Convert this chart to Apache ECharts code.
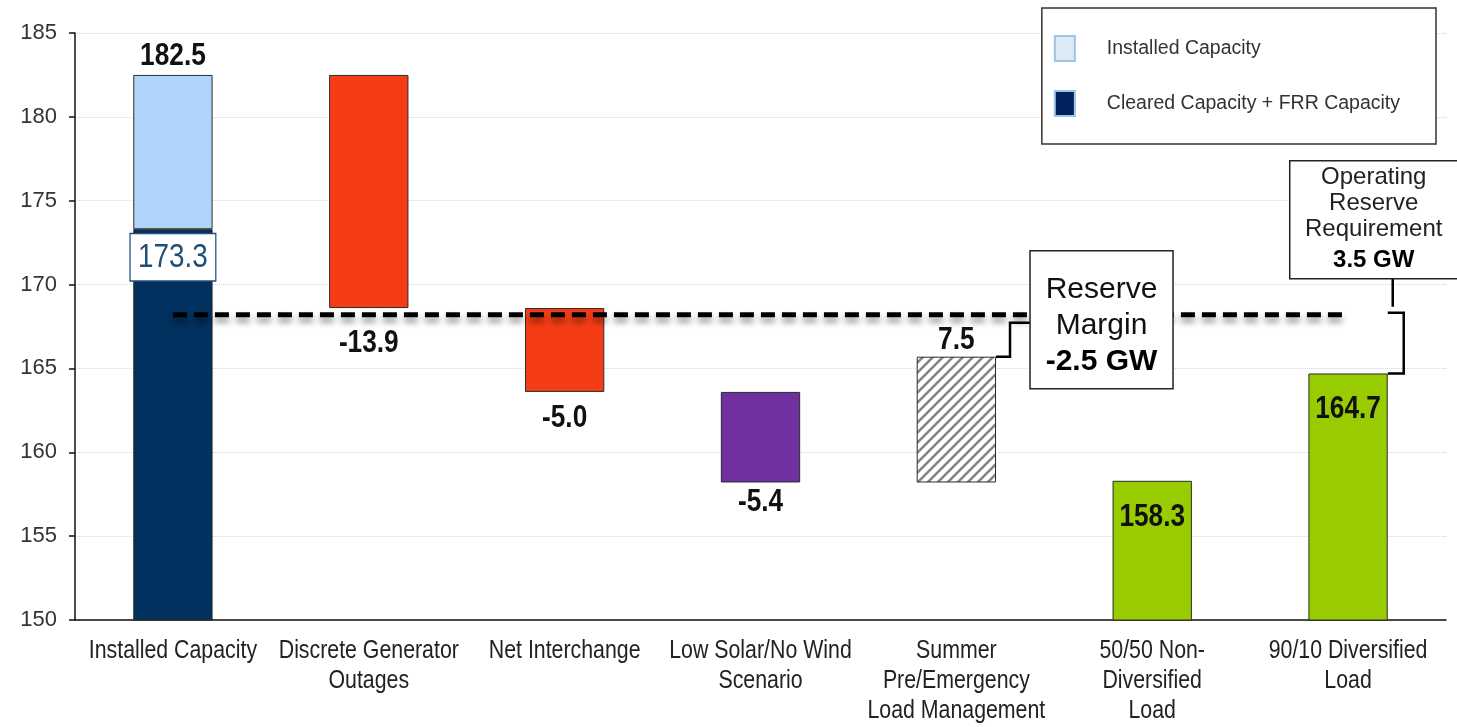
<!DOCTYPE html>
<html>
<head>
<meta charset="utf-8">
<script src="https://cdn.jsdelivr.net/npm/echarts@6/dist/echarts.min.js"></script>
<style>
  html, body { margin: 0; padding: 0; background: #fff; }
  #chart { width: 1457px; height: 727px; }
</style>
</head>
<body>
<div id="chart"></div>
<script>
// ---- data ----
const categories = [
  'Installed Capacity',
  'Discrete Generator\nOutages',
  'Net Interchange',
  'Low Solar/No Wind\nScenario',
  'Summer\nPre/Emergency\nLoad Management',
  '50/50 Non-\nDiversified\nLoad',
  '90/10 Diversified\nLoad'
];
const installedCapacity = 182.5;            // GW
const clearedCapacity = 173.3;              // GW, Cleared + FRR
const adjustments = [null, -13.9, -5.0, -5.4, 7.5, null, null];
const loadValues = [null, null, null, null, null, 158.3, 164.7];
const operatingReserve = 3.5;               // GW
const yMin = 150, yMax = 185, yStep = 5;

// ---- styling ----
const FONT = '"Liberation Sans", Arial, sans-serif';
const SQUEEZE = 0.82;                        // condensed lettering
const NAVY = '#02305F';
const LIGHT = '#AFD5FA';
const RED = '#F53D15';
const PURPLE = '#7030A0';
const GREEN = '#99CC00';
const EDGE = '#2b2b2b';

// diagonal hatch for the load-management step
function hatchPattern() {
  const s = 10;
  const c = document.createElement('canvas');
  c.width = s; c.height = s;
  const g = c.getContext('2d');
  g.fillStyle = '#fff';
  g.fillRect(0, 0, s, s);
  g.strokeStyle = '#858585';
  g.lineWidth = 2.6;
  g.beginPath();
  g.moveTo(-2, s + 2); g.lineTo(s + 2, -2);
  g.moveTo(-2, 2); g.lineTo(2, -2);
  g.moveTo(s - 2, s + 2); g.lineTo(s + 2, s - 2);
  g.stroke();
  return c;
}
const adjustColors = [null, RED, RED, PURPLE, { image: hatchPattern(), repeat: 'repeat' }, null, null];
const stepLabelOffset = [0, 35, 26, 20, 17, 0, 0];

// ---- waterfall build ----
let level = installedCapacity;
const baseData = [], stepData = [];
const valueLabels = [];   // {cat, y, text, dy, kind}
valueLabels.push({ cat: 0, y: installedCapacity, text: installedCapacity.toFixed(1), dy: -19, kind: 'bold' });
valueLabels.push({ cat: 0, y: clearedCapacity, text: clearedCapacity.toFixed(1), dy: 28, kind: 'boxed' });
adjustments.forEach((d, i) => {
  if (d == null) { baseData.push('-'); stepData.push('-'); return; }
  const next = +(level + d).toFixed(1);
  const lo = Math.min(level, next), hi = Math.max(level, next);
  baseData.push(lo);
  stepData.push({ value: Math.abs(d), itemStyle: { color: adjustColors[i] } });
  valueLabels.push(d < 0
    ? { cat: i, y: lo, text: d.toFixed(1), dy: stepLabelOffset[i], kind: 'bold' }
    : { cat: i, y: hi, text: d.toFixed(1), dy: -stepLabelOffset[i], kind: 'bold' });
  level = next;
});
loadValues.forEach((v, i) => {
  if (v != null) valueLabels.push({ cat: i, y: v, text: v.toFixed(1), dy: 36, kind: 'bold' });
});
const availableAfterSteps = level;
const reserveLine = +(loadValues[6] + operatingReserve).toFixed(1);
const reserveMargin = +(availableAfterSteps - reserveLine).toFixed(1);

const clearedData = categories.map((_, i) => i === 0 ? clearedCapacity : '-');
const installedData = categories.map((_, i) => i === 0 ? +(installedCapacity - clearedCapacity).toFixed(1) : '-');
const loadData = loadValues.map(v => v == null ? '-' : v);
const lineData = categories.map(() => reserveLine);

const chart = echarts.init(document.getElementById('chart'));

const barCommon = {
  type: 'bar',
  stack: 'wf',
  barWidth: '40.5%',
  itemStyle: { borderColor: EDGE, borderWidth: 1 }
};

chart.setOption({
  animation: false,
  backgroundColor: '#fff',
  grid: { left: 75, right: 11, top: 33, bottom: 107 },
  legend: {
    right: 21,
    top: 8,
    orient: 'vertical',
    icon: 'rect',
    selectedMode: false,
    itemWidth: 20,
    itemHeight: 25,
    itemGap: 28,
    backgroundColor: '#fff',
    borderColor: '#333',
    borderWidth: 1.5,
    padding: [27, 36, 27, 12],
    textStyle: { fontFamily: FONT, fontSize: 19.5, color: '#333', padding: [0, 0, 0, 27] },
    data: [
      { name: 'Installed Capacity', itemStyle: { color: '#DDEBF7', borderColor: '#9DC3E6', borderWidth: 2 } },
      { name: 'Cleared Capacity + FRR Capacity', itemStyle: { color: '#002060', borderColor: '#9DC3E6', borderWidth: 2 } }
    ]
  },
  xAxis: {
    type: 'category',
    data: categories,
    axisLine: { lineStyle: { color: '#111', width: 1.5 } },
    axisTick: { interval: 0, length: 7, lineStyle: { color: '#111', width: 1.5 } },
    axisLabel: { show: false },
    splitLine: { show: false }
  },
  yAxis: {
    type: 'value',
    min: yMin, max: yMax, interval: yStep,
    axisLine: { show: true, lineStyle: { color: '#111', width: 1.5 } },
    axisTick: { show: true, length: 6, lineStyle: { color: '#111', width: 1.5 } },
    axisLabel: { fontFamily: FONT, fontSize: 22, color: '#333', margin: 18 },
    splitLine: { lineStyle: { color: '#d4d4d4', type: 'dotted', width: 1 } }
  },
  series: [
    {
      ...barCommon,
      name: 'base',
      silent: true,
      itemStyle: { color: 'transparent', borderWidth: 0 },
      data: baseData
    },
    {
      ...barCommon,
      name: 'Cleared Capacity + FRR Capacity',
      itemStyle: { color: NAVY, borderColor: EDGE, borderWidth: 1 },
      data: clearedData
    },
    {
      ...barCommon,
      name: 'Installed Capacity',
      itemStyle: { color: LIGHT, borderColor: EDGE, borderWidth: 1 },
      data: installedData
    },
    {
      ...barCommon,
      name: 'Adjustments',
      data: stepData
    },
    {
      ...barCommon,
      name: 'Load',
      itemStyle: { color: GREEN, borderColor: EDGE, borderWidth: 1 },
      data: loadData
    },
    {
      type: 'line',
      name: 'Reserve Requirement',
      data: lineData,
      symbol: 'none',
      silent: true,
      z: 5,
      lineStyle: {
        color: '#000',
        width: 5,
        type: [14, 7],
        cap: 'butt',
        shadowColor: 'rgba(0,0,0,0.45)',
        shadowBlur: 6,
        shadowOffsetY: 5
      }
    },
    {
      // reserve margin / operating reserve callouts
      type: 'custom',
      name: 'Annotations',
      silent: true,
      z: 6,
      data: [
        [4, availableAfterSteps, reserveLine],
        [6, loadValues[6], reserveLine]
      ],
      renderItem: (params, api) => {
        const cat = api.value(0);
        const pLo = api.coord([cat, api.value(1)]);
        const pHi = api.coord([cat, api.value(2)]);
        const band = api.size([1, 0])[0];
        const barRight = pLo[0] + band * 0.2025;
        const stroke = { stroke: '#000', lineWidth: 2.5, fill: null };
        if (params.dataIndex === 0) {
          const bx = barRight + 14;
          const topY = pHi[1] + 8;
          const boxL = bx + 20, boxW = 143, boxH = 138;
          const cy = pHi[1] + 5;
          const boxT = cy - boxH / 2;
          const cx = boxL + boxW / 2;
          return {
            type: 'group',
            children: [
              { type: 'polyline', shape: { points: [[barRight, pLo[1]], [bx, pLo[1]], [bx, topY], [boxL, topY]] }, style: stroke },
              { type: 'rect', shape: { x: boxL, y: boxT, width: boxW, height: boxH }, style: { fill: '#fff', stroke: '#222', lineWidth: 1.5 } },
              { type: 'text', x: cx, y: cy - 30, style: { text: 'Reserve', font: '30px ' + FONT, fill: '#111', align: 'center', verticalAlign: 'middle' } },
              { type: 'text', x: cx, y: cy + 6, style: { text: 'Margin', font: '30px ' + FONT, fill: '#111', align: 'center', verticalAlign: 'middle' } },
              { type: 'text', x: cx, y: cy + 42, style: { text: reserveMargin.toFixed(1) + ' GW', font: 'bold 30px ' + FONT, fill: '#000', align: 'center', verticalAlign: 'middle' } }
            ]
          };
        }
        const bx = barRight + 16;
        const topY = pHi[1] - 2;
        const linkX = barRight + 5;
        const boxB = pHi[1] - 36, boxH = 118, boxW = 170;
        const boxL = barRight - 98;
        const boxT = boxB - boxH;
        const cx = boxL + 84;
        return {
          type: 'group',
          children: [
            { type: 'polyline', shape: { points: [[barRight, topY], [bx, topY], [bx, pLo[1]], [barRight, pLo[1]]] }, style: stroke },
            { type: 'line', shape: { x1: linkX, y1: pHi[1] - 8, x2: linkX, y2: boxB }, style: stroke },
            { type: 'rect', shape: { x: boxL, y: boxT, width: boxW, height: boxH }, style: { fill: '#fff', stroke: '#222', lineWidth: 1.5 } },
            { type: 'text', x: cx, y: boxT + 17, style: { text: 'Operating', font: '24px ' + FONT, fill: '#222', align: 'center', verticalAlign: 'middle' } },
            { type: 'text', x: cx, y: boxT + 43, style: { text: 'Reserve', font: '24px ' + FONT, fill: '#222', align: 'center', verticalAlign: 'middle' } },
            { type: 'text', x: cx, y: boxT + 69, style: { text: 'Requirement', font: '24px ' + FONT, fill: '#222', align: 'center', verticalAlign: 'middle' } },
            { type: 'text', x: cx, y: boxT + 100, style: { text: operatingReserve.toFixed(1) + ' GW', font: 'bold 24px ' + FONT, fill: '#000', align: 'center', verticalAlign: 'middle' } }
          ]
        };
      }
    },
    {
      // bar value labels in condensed lettering
      type: 'custom',
      name: 'Value labels',
      silent: true,
      z: 7,
      data: valueLabels.map(l => [l.cat, l.y]),
      renderItem: (params, api) => {
        const spec = valueLabels[params.dataIndex];
        const p = api.coord([api.value(0), api.value(1)]);
        if (spec.kind === 'boxed') {
          return {
            type: 'text', x: p[0], y: p[1] + spec.dy, scaleX: SQUEEZE,
            style: {
              text: spec.text, font: '34px ' + FONT, fill: '#1F4E79',
              align: 'center', verticalAlign: 'middle',
              backgroundColor: '#fff', borderColor: '#1F4E79', borderWidth: 1.5,
              padding: [7, 9, 5, 9]
            }
          };
        }
        return {
          type: 'text', x: p[0], y: p[1] + spec.dy, scaleX: SQUEEZE,
          style: {
            text: spec.text, font: 'bold 32px ' + FONT, fill: '#111',
            align: 'center', verticalAlign: 'middle'
          }
        };
      }
    },
    {
      // category labels under the axis in condensed lettering
      type: 'custom',
      name: 'Category labels',
      silent: true,
      z: 7,
      data: categories.map((_, i) => [i, yMin]),
      renderItem: (params, api) => {
        const p = api.coord([api.value(0), api.value(1)]);
        return {
          type: 'text', x: p[0], y: p[1] + 16, scaleX: SQUEEZE,
          style: {
            text: categories[params.dataIndex], font: '26px ' + FONT, fill: '#222',
            align: 'center', verticalAlign: 'top', lineHeight: 30
          }
        };
      }
    }
  ]
});
</script>
</body>
</html>
